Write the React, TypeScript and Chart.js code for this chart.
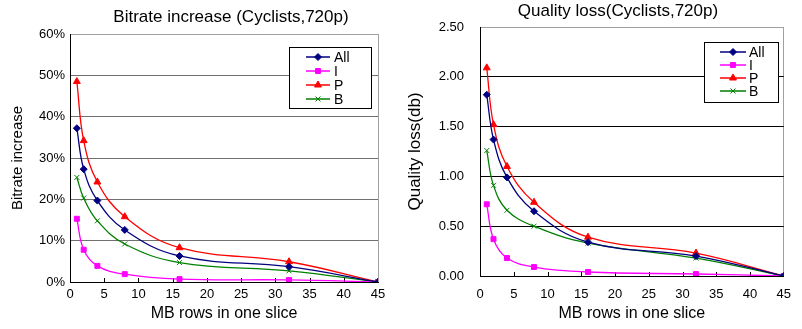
import React, { useEffect, useRef } from "react";
import { Chart, registerables } from "chart.js";
import { drawPoint } from "chart.js/helpers";

Chart.register(...registerables);

const xValues = [1, 2, 4, 8, 16, 32, 45];
const seriesNames = ["All", "I", "P", "B"];
const seriesColors = ["#000080", "#FF00FF", "#FF0000", "#008000"];
const seriesMarkers = ["rectRot", "rect", "triangle", "crossRot"];

const bitrateAll = [37.2, 27.3, 19.7, 12.6, 6.3, 3.7, 0];
const bitrateI = [15.3, 7.8, 3.9, 1.9, 0.7, 0.5, 0];
const bitrateP = [48.5, 34.2, 24.2, 15.8, 8.3, 4.9, 0];
const bitrateB = [25.3, 20.3, 14.8, 9.2, 4.7, 2.7, 0];

const qualityAll = [1.82, 1.37, 0.99, 0.65, 0.34, 0.2, 0];
const qualityI = [0.72, 0.37, 0.18, 0.09, 0.04, 0.02, 0];
const qualityP = [2.09, 1.52, 1.1, 0.74, 0.39, 0.23, 0];
const qualityB = [1.26, 0.91, 0.66, 0.5, 0.33, 0.18, 0];

const xTickValues = [0, 5, 10, 15, 20, 25, 30, 35, 40, 45];
const bitrateYTicks = [0, 10, 20, 30, 40, 50, 60];
const qualityYTicks = [0, 0.5, 1, 1.5, 2, 2.5];

const FONT = "'Liberation Sans', Arial, sans-serif";

const decorPlugin = {
  id: "decor",
  beforeDatasetsDraw(chart: any) {
    const { ctx, chartArea, scales } = chart;
    const x = scales.x;
    ctx.save();
    ctx.strokeStyle = "#000";
    ctx.lineWidth = 1;
    ctx.beginPath();
    x.ticks.forEach((t: any) => {
      if (t.value === 0 || t.value === 45) return;
      const px = Math.round(x.getPixelForValue(t.value)) + 0.5;
      ctx.moveTo(px, chartArea.bottom);
      ctx.lineTo(px, chartArea.bottom - 4);
    });
    ctx.stroke();
    ctx.restore();
  },
  afterDraw(chart: any, _a: any, opts: any) {
    const { ctx } = chart;
    ctx.save();
    ctx.fillStyle = "#000";
    ctx.font = `${opts.titleSize}px ${FONT}`;
    ctx.textAlign = "center";
    ctx.textBaseline = "middle";
    ctx.fillText(opts.title, opts.titleX, opts.titleY);
    const L = opts.legend;
    ctx.fillStyle = "#fff";
    ctx.fillRect(L.x, L.y, L.w, L.h);
    ctx.strokeStyle = "#000";
    ctx.lineWidth = 1;
    ctx.strokeRect(L.x + 0.5, L.y + 0.5, L.w, L.h);
    chart.data.datasets.forEach((ds: any, i: number) => {
      const yy = L.rowY + i * L.rowGap;
      ctx.strokeStyle = ds.borderColor;
      ctx.lineWidth = 1.5;
      ctx.beginPath();
      ctx.moveTo(L.lineX1, yy);
      ctx.lineTo(L.lineX2, yy);
      ctx.stroke();
      ctx.fillStyle = ds.pointBackgroundColor;
      ctx.strokeStyle = ds.pointBorderColor;
      ctx.lineWidth = 1;
      drawPoint(
        ctx,
        { pointStyle: ds.pointStyle, radius: ds.pointRadius, borderWidth: 1, rotation: 0 } as any,
        (L.lineX1 + L.lineX2) / 2,
        yy
      );
      ctx.fillStyle = "#000";
      ctx.font = `${L.fontSize}px ${FONT}`;
      ctx.textAlign = "left";
      ctx.textBaseline = "middle";
      ctx.fillText(ds.label, L.textX, yy + 1);
    });
    ctx.restore();
  },
};

function makeDatasets(values: number[][]) {
  return values.map((v, i) => ({
    label: seriesNames[i],
    data: v.map((y, j) => ({ x: xValues[j], y })),
    borderColor: seriesColors[i],
    backgroundColor: seriesColors[i],
    pointBackgroundColor: seriesColors[i],
    pointBorderColor: seriesColors[i],
    pointStyle: seriesMarkers[i],
    pointRadius: seriesMarkers[i] === "triangle" ? 4 : 3.5,
    pointBorderWidth: 1,
    borderWidth: 1.3,
    tension: 0.4,
    fill: false,
  }));
}

function makeConfig(p: any): any {
  return {
    type: "line",
    data: { datasets: makeDatasets(p.values) },
    plugins: [decorPlugin],
    options: {
      animation: false,
      responsive: false,
      layout: { padding: { left: 0, top: p.top, right: p.right, bottom: 0 } },
      plugins: {
        legend: { display: false },
        title: { display: false },
        tooltip: { enabled: false },
        decor: {
          title: p.title,
          titleX: p.titleX,
          titleY: p.titleY,
          titleSize: 17,
          legend: p.legend,
        },
      },
      scales: {
        x: {
          type: "linear",
          min: 0,
          max: 45,
          afterBuildTicks: (s: any) => {
            s.ticks = xTickValues.map((v) => ({ value: v }));
          },
          afterFit: (s: any) => {
            s.height = p.xHeight;
          },
          grid: {
            drawTicks: false,
            color: (c: any) => (c.tick && c.tick.value === 45 ? "#a0a0a0" : "rgba(0,0,0,0)"),
            lineWidth: 1,
          },
          border: { display: true, color: "#000", width: 1 },
          ticks: {
            padding: p.xTickPad,
            color: "#000",
            font: { family: FONT, size: 13 },
            maxRotation: 0,
          },
          title: {
            display: true,
            text: "MB rows in one slice",
            color: "#000",
            font: { family: FONT, size: 16 },
            padding: { top: 0, bottom: 6 },
          },
        },
        y: {
          type: "linear",
          min: 0,
          max: p.yMax,
          afterBuildTicks: (s: any) => {
            s.ticks = p.yTicks.map((v: number) => ({ value: v }));
          },
          afterFit: (s: any) => {
            s.width = p.yWidth;
          },
          grid: {
            drawTicks: false,
            color: (c: any) => (c.tick && c.tick.value === p.yMax ? "#a0a0a0" : p.gridColor),
            lineWidth: 1,
          },
          border: { display: true, color: "#000", width: 1 },
          ticks: {
            padding: p.yTickPad,
            color: "#000",
            font: { family: FONT, size: 13 },
            callback: p.yFormat,
          },
          title: {
            display: true,
            text: p.yTitle,
            color: "#000",
            font: { family: FONT, size: p.yTitleSize },
            padding: { top: p.yTitlePad, bottom: 0 },
          },
        },
      },
    },
  };
}

function ChartCanvas({ cfg }: { cfg: any }) {
  const ref = useRef<HTMLCanvasElement>(null);
  useEffect(() => {
    const c = new Chart(ref.current as HTMLCanvasElement, cfg);
    return () => c.destroy();
  }, []);
  return <canvas ref={ref} width={401} height={329} style={{ display: "block", width: 401, height: 329 }} />;
}

export default function App() {
  const leftCfg = makeConfig({
    values: [bitrateAll, bitrateI, bitrateP, bitrateB],
    title: "Bitrate increase (Cyclists,720p)",
    titleX: 231,
    titleY: 17,
    top: 34,
    right: 23,
    yWidth: 70,
    xHeight: 47,
    xTickPad: 5,
    yTickPad: 5,
    yMax: 60,
    yTicks: bitrateYTicks,
    yFormat: (v: number) => `${v}%`,
    yTitle: "Bitrate increase",
    yTitleSize: 15,
    yTitlePad: 9,
    gridColor: "#707070",
    legend: { x: 289, y: 47, w: 82, h: 61, lineX1: 306, lineX2: 330, textX: 334, rowY: 57, rowGap: 14, fontSize: 14 },
  });
  const rightCfg = makeConfig({
    values: [qualityAll, qualityI, qualityP, qualityB],
    title: "Quality loss(Cyclists,720p)",
    titleX: 217,
    titleY: 11,
    top: 27,
    right: 9,
    yWidth: 79,
    xHeight: 53,
    xTickPad: 11,
    yTickPad: 16,
    yMax: 2.5,
    yTicks: qualityYTicks,
    yFormat: (v: number) => v.toFixed(2),
    yTitle: "Quality loss(db)",
    yTitleSize: 17,
    yTitlePad: 4,
    gridColor: "#000000",
    legend: { x: 303, y: 42, w: 74, h: 60, lineX1: 319, lineX2: 345, textX: 348, rowY: 52, rowGap: 13, fontSize: 14 },
  });
  return (
    <div style={{ position: "absolute", left: 0, top: 0, width: 802, height: 329, display: "flex", background: "#fff" }}>
      <ChartCanvas cfg={leftCfg} />
      <ChartCanvas cfg={rightCfg} />
    </div>
  );
}
